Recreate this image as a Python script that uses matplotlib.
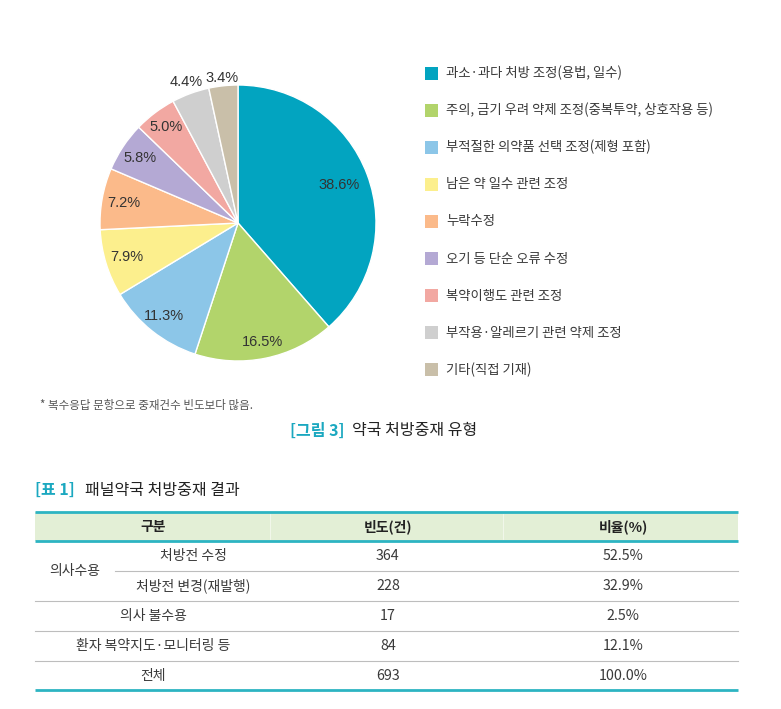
import matplotlib
matplotlib.use('Agg')
import matplotlib.pyplot as plt
from matplotlib.patches import Rectangle
import numpy as np

plt.rcParams['font.family'] = ['Noto Sans CJK KR', 'DejaVu Sans']

# pie data
types = ['과소·과다 처방 조정(용법, 일수)',
         '주의, 금기 우려 약제 조정(중복투약, 상호작용 등)',
         '부적절한 의약품 선택 조정(제형 포함)',
         '남은 약 일수 관련 조정',
         '누락수정',
         '오기 등 단순 오류 수정',
         '복약이행도 관련 조정',
         '부작용·알레르기 관련 약제 조정',
         '기타(직접 기재)']
shares = [38.6, 16.5, 11.3, 7.9, 7.2, 5.8, 5.0, 4.4, 3.4]
colors = ['#02a4c0', '#b2d46b', '#8cc6e8', '#fcef8d', '#fbba8a',
          '#b4a9d4', '#f2a8a2', '#cfcfcf', '#c9bfa9']
label_dist = [0.78, 0.88, 0.86, 0.84, 0.84, 0.85, 0.87, 1.09, 1.06]

# table data
row_names = ['처방전 수정', '처방전 변경(재발행)', '의사 불수용',
             '환자 복약지도·모니터링 등', '전체']
counts = [364, 228, 17, 84, 693]
ratios = [52.5, 32.9, 2.5, 12.1, 100.0]
group_name = '의사수용'
headers = ['구분', '빈도(건)', '비율(%)']

W, H = 781, 709
teal = '#1ba8c0'
txt = '#3a3a3a'

fig = plt.figure(figsize=(W / 100, H / 100), dpi=100)
ax = fig.add_axes([0, 0, 1, 1])
ax.set_xlim(0, W)
ax.set_ylim(H, 0)
ax.axis('off')

# pie
cx, cy, R = 238, 223, 138
box = 150
axp = fig.add_axes([(cx - box) / W, 1 - (cy + box) / H, 2 * box / W, 2 * box / H])
wedges, _ = axp.pie(shares, colors=colors, radius=R, startangle=90, counterclock=False,
                    wedgeprops=dict(edgecolor='white', linewidth=1.0))
axp.set_xlim(-box, box)
axp.set_ylim(-box, box)
axp.set_aspect('auto')
axp.axis('off')
for w, v, d in zip(wedges, shares, label_dist):
    th = np.deg2rad((w.theta1 + w.theta2) / 2)
    axp.text(d * R * np.cos(th), d * R * np.sin(th), f'{v:.1f}%',
             ha='center', va='center', fontsize=10.5, color='#333333',
             family=['Liberation Sans', 'DejaVu Sans'])

# legend
y0, dy = 73, 37.1
for i, (name, c) in enumerate(zip(types, colors)):
    y = y0 + i * dy
    ax.add_patch(Rectangle((425, y - 6.5), 13, 13, color=c, lw=0))
    ax.text(446, y, name, ha='left', va='center', fontsize=9.6, color=txt)

# footnote and caption
ax.text(40, 405, '* 복수응답 문항으로 중재건수 빈도보다 많음.', fontsize=8.3,
        color='#555555', va='center')
ax.text(290, 431, '[그림 3]', fontsize=11.5, color=teal, va='center', fontweight='bold')
ax.text(352, 431, '약국 처방중재 유형', fontsize=11.5, color='#222222', va='center')

ax.text(35, 490, '[표 1]', fontsize=11.5, color=teal, va='center', fontweight='bold')
ax.text(85, 490, '패널약국 처방중재 결과', fontsize=11.5, color='#222222', va='center')

# table
tl, tr = 35, 738
top, hbot = 512, 541
col_x = [153, 388, 623]
ax.add_patch(Rectangle((tl, top), tr - tl, hbot - top, color='#e3efd6', lw=0))
for sx in [270, 503]:
    ax.plot([sx, sx], [top + 2, hbot - 2], color='white', lw=0.6, alpha=0.6)
for x, h in zip(col_x, headers):
    ax.text(x, (top + hbot) / 2, h, ha='center', va='center', fontsize=10,
            fontweight='bold', color='#222222')

row_y = [556, 586, 616, 646, 676]
name_x = [193, 193, 153, 153, 153]
for y, nm, nx, c, r in zip(row_y, row_names, name_x, counts, ratios):
    ax.text(nx, y, nm, ha='center', va='center', fontsize=10, color=txt)
    ax.text(col_x[1], y, f'{c}', ha='center', va='center', fontsize=10.3, color=txt)
    ax.text(col_x[2], y, f'{r:.1f}%', ha='center', va='center', fontsize=10.3, color=txt)
ax.text(75, (row_y[0] + row_y[1]) / 2, group_name, ha='center', va='center',
        fontsize=10, color=txt)

ax.plot([115, tr], [571, 571], color='#bdbdbd', lw=0.8)
for y in [601, 631, 661]:
    ax.plot([tl, tr], [y, y], color='#bdbdbd', lw=0.8)
for y in [top, hbot, 690]:
    ax.plot([tl, tr], [y, y], color='#2db4c2', lw=2.0, solid_capstyle='butt')

fig.savefig('out.png', dpi=100, facecolor='white')
